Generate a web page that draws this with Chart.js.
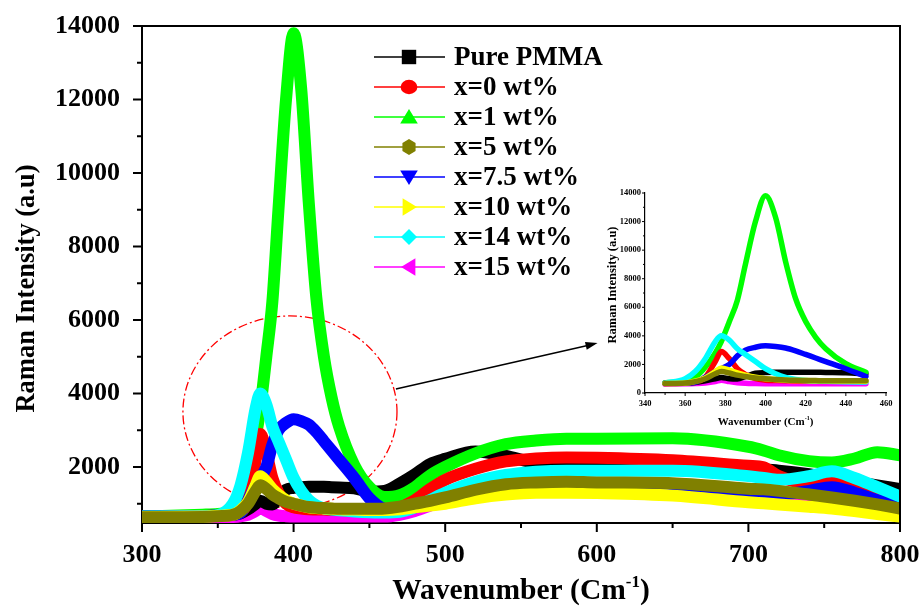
<!DOCTYPE html>
<html>
<head>
<meta charset="utf-8">
<script src="https://cdn.jsdelivr.net/npm/chart.js@4.4.0/dist/chart.umd.min.js"></script>
<style>
  html, body { margin: 0; padding: 0; background: #fff; }
  #wrap { position: relative; width: 923px; height: 606px; }
  #main { position: absolute; left: 0; top: 0; }
  #inset { position: absolute; left: 590px; top: 180px; }
</style>
</head>
<body>
<div id="wrap">
  <canvas id="main" width="923" height="606"></canvas>
  <canvas id="inset" width="310" height="255"></canvas>
</div>
<script>
// Raman spectra, values
const wavenumber = [300, 340, 350, 360, 365, 370, 375, 378, 382, 386,
                    390, 395, 400, 405, 410, 415, 420, 425, 430, 440,
                    450, 460, 470, 480, 490, 500, 520, 540, 560, 580,
                    600, 650, 700, 710, 720, 740, 755, 770, 785, 800];

const purePMMA = [650, 660, 680, 700, 740, 850, 1000, 1080, 1000, 980,
                  1150, 1380, 1430, 1450, 1460, 1460, 1460, 1450, 1440, 1420,
                  1330, 1350, 1550, 1800, 2080, 2220, 2420, 2300, 2120, 2100,
                  2100, 2020, 1950, 1930, 1900, 1800, 1700, 1600, 1500, 1400];
const x0wt = [650, 660, 680, 700, 760, 1100, 2200, 2900, 2400, 1700,
              1300, 1000, 900, 870, 850, 840, 840, 830, 830, 820,
              820, 830, 900, 1100, 1400, 1650, 1950, 2150, 2230, 2260,
              2250, 2180, 2030, 1990, 1750, 1550, 1650, 1500, 1300, 1100];
const x1wt = [650, 700, 720, 800, 1100, 1800, 2800, 3600, 5000, 6500,
              9000, 12000, 13800, 12300, 9200, 6600, 5000, 3900, 3100, 2050,
              1450, 1180, 1230, 1450, 1770, 2000, 2370, 2620, 2720, 2770,
              2770, 2780, 2550, 2450, 2320, 2160, 2120, 2230, 2400, 2320];
const x5wt = [630, 640, 660, 700, 800, 1000, 1350, 1500, 1400, 1250,
              1150, 1050, 1000, 950, 910, 890, 880, 870, 860, 860,
              860, 870, 920, 1000, 1080, 1170, 1380, 1530, 1580, 1600,
              1580, 1560, 1410, 1390, 1350, 1250, 1170, 1080, 980, 870];
const x75wt = [650, 660, 680, 700, 750, 1100, 1500, 1700, 2000, 2600,
               3000, 3200, 3300, 3250, 3150, 2950, 2700, 2450, 2200, 1700,
               1150, 850, 800, 900, 1000, 1100, 1250, 1350, 1400, 1420,
               1420, 1380, 1300, 1280, 1250, 1350, 1450, 1300, 1100, 950];
const x10wt = [640, 650, 670, 700, 820, 1050, 1500, 1750, 1600, 1400,
               1250, 1100, 1000, 950, 900, 880, 870, 860, 850, 840,
               830, 830, 850, 900, 950, 1000, 1150, 1250, 1300, 1300,
               1290, 1220, 1040, 1010, 980, 920, 870, 800, 720, 650];
const x14wt = [650, 660, 690, 1000, 1500, 2400, 3600, 4000, 3700, 3100,
               2700, 2200, 1700, 1350, 1100, 950, 870, 840, 820, 790,
               770, 760, 780, 900, 1100, 1300, 1600, 1780, 1870, 1900,
               1900, 1900, 1750, 1700, 1650, 1750, 1880, 1700, 1450, 1200];
const x15wt = [600, 610, 620, 640, 660, 700, 800, 900, 800, 720,
               680, 660, 650, 650, 650, 650, 650, 650, 650, 650,
               650, 650, 700, 800, 950, 1100, 1400, 1550, 1600, 1600,
               1550, 1450, 1300, 1280, 1250, 1200, 1400, 1200, 900, 700];

const seriesLabels = ['Pure PMMA', 'x=0 wt%', 'x=1 wt%', 'x=5 wt%', 'x=7.5 wt%', 'x=10 wt%', 'x=14 wt%', 'x=15 wt%'];
const seriesValues = [purePMMA, x0wt, x1wt, x5wt, x75wt, x10wt, x14wt, x15wt];
const seriesColors = ['#000000', '#ff0000', '#00ff00', '#808000', '#0000ff', '#ffff00', '#00ffff', '#ff00ff'];
const seriesMarkers = ['square', 'circle', 'triangle', 'hexagon', 'triangleDown', 'triangleRight', 'diamond', 'triangleLeft'];
const drawOrder = [7, 5, 6, 1, 4, 2, 3, 8];   // lower = drawn on top

const xTicksMain = [300, 400, 500, 600, 700, 800];
const yTicksMain = [2000, 4000, 6000, 8000, 10000, 12000, 14000];
const xTicksInset = [340, 360, 380, 400, 420, 440, 460];
const yTicksInset = [0, 2000, 4000, 6000, 8000, 10000, 12000, 14000];

const FONT = '"Liberation Serif", "Times New Roman", serif';

function makeDatasets(lo, hi, width) {
    return seriesLabels.map((label, i) => ({
        label: label,
        order: drawOrder[i],
        data: wavenumber.map((x, j) => ({ x: x, y: seriesValues[i][j] }))
                        .filter(p => p.x >= lo && p.x <= hi),
        borderColor: seriesColors[i],
        backgroundColor: seriesColors[i],
        borderWidth: width,
        pointRadius: 0,
        cubicInterpolationMode: 'monotone',
        borderJoinStyle: 'round',
        borderCapStyle: 'round',
        fill: false
    }));
}

function drawMarker(ctx, kind, x, y, r) {
    ctx.beginPath();
    switch (kind) {
        case 'square':
            ctx.rect(x - r * 0.9, y - r * 0.9, r * 1.8, r * 1.8); break;
        case 'circle':
            ctx.ellipse(x, y, r * 1.05, r * 0.9, 0, 0, Math.PI * 2); break;
        case 'triangle':
            ctx.moveTo(x, y - r); ctx.lineTo(x + r * 1.1, y + r * 0.8); ctx.lineTo(x - r * 1.1, y + r * 0.8); break;
        case 'triangleDown':
            ctx.moveTo(x, y + r); ctx.lineTo(x + r * 1.1, y - r * 0.8); ctx.lineTo(x - r * 1.1, y - r * 0.8); break;
        case 'triangleRight':
            ctx.moveTo(x + r, y); ctx.lineTo(x - r * 0.8, y - r * 1.1); ctx.lineTo(x - r * 0.8, y + r * 1.1); break;
        case 'triangleLeft':
            ctx.moveTo(x - r, y); ctx.lineTo(x + r * 0.8, y - r * 1.1); ctx.lineTo(x + r * 0.8, y + r * 1.1); break;
        case 'diamond':
            ctx.moveTo(x, y - r); ctx.lineTo(x + r, y); ctx.lineTo(x, y + r); ctx.lineTo(x - r, y); break;
        case 'hexagon':
            for (let k = 0; k < 6; k++) {
                const a = Math.PI / 2 + k * Math.PI / 3;
                const px = x + Math.cos(a) * r * 0.95, py = y + Math.sin(a) * r;
                if (k === 0) ctx.moveTo(px, py); else ctx.lineTo(px, py);
            }
            break;
    }
    ctx.closePath();
    ctx.fill();
}

function drawTicks(chart, xMajor, xMinor, yMajor, yMinor, majorLen, minorLen, lw) {
    const ctx = chart.ctx, area = chart.chartArea;
    const xs = chart.scales.x, ys = chart.scales.y;
    ctx.save();
    ctx.strokeStyle = '#000';
    ctx.lineWidth = lw;
    ctx.beginPath();
    xMajor.forEach(v => { const p = xs.getPixelForValue(v); ctx.moveTo(p, area.bottom); ctx.lineTo(p, area.bottom + majorLen); });
    xMinor.forEach(v => { const p = xs.getPixelForValue(v); ctx.moveTo(p, area.bottom); ctx.lineTo(p, area.bottom + minorLen); });
    yMajor.forEach(v => { const p = ys.getPixelForValue(v); ctx.moveTo(area.left, p); ctx.lineTo(area.left - majorLen, p); });
    yMinor.forEach(v => { const p = ys.getPixelForValue(v); ctx.moveTo(area.left, p); ctx.lineTo(area.left - minorLen, p); });
    ctx.stroke();
    ctx.restore();
}

function drawWavenumberTitle(ctx, cx, baseline, size) {
    const a = 'Wavenumber (Cm', sup = '-1', b = ')';
    const mainFont = 'bold ' + size + 'px ' + FONT;
    const supFont = 'bold ' + Math.round(size * 0.58) + 'px ' + FONT;
    ctx.save();
    ctx.fillStyle = '#000';
    ctx.textBaseline = 'alphabetic';
    ctx.textAlign = 'left';
    ctx.font = mainFont;
    const wa = ctx.measureText(a).width, wb = ctx.measureText(b).width;
    ctx.font = supFont;
    const ws = ctx.measureText(sup).width;
    let x = cx - (wa + ws + wb) / 2;
    ctx.font = mainFont; ctx.fillText(a, x, baseline); x += wa;
    ctx.font = supFont; ctx.fillText(sup, x, baseline - size * 0.42); x += ws;
    ctx.font = mainFont; ctx.fillText(b, x, baseline);
    ctx.restore();
}

function drawYTitle(ctx, x, cy, size) {
    ctx.save();
    ctx.translate(x, cy);
    ctx.rotate(-Math.PI / 2);
    ctx.font = 'bold ' + size + 'px ' + FONT;
    ctx.fillStyle = '#000';
    ctx.textAlign = 'center';
    ctx.textBaseline = 'alphabetic';
    ctx.fillText('Raman Intensity (a.u)', 0, 0);
    ctx.restore();
}

// zoom ellipse and arrow, in data units
const zoomCenter = { x: 397.6, y: 3500 };
const zoomRadius = { x: 70.6, y: 2610 };
const arrowFrom = { x: 467.5, y: 4120 };
const arrowTo = { x: 600.5, y: 5370 };

const mainDecor = {
    id: 'mainDecor',
    beforeDatasetsDraw(chart) {
        const ctx = chart.ctx, xs = chart.scales.x, ys = chart.scales.y;
        const cx = xs.getPixelForValue(zoomCenter.x), cy = ys.getPixelForValue(zoomCenter.y);
        const rx = xs.getPixelForValue(zoomCenter.x + zoomRadius.x) - cx;
        const ry = cy - ys.getPixelForValue(zoomCenter.y + zoomRadius.y);
        ctx.save();
        ctx.strokeStyle = '#ff0000';
        ctx.lineWidth = 1.3;
        ctx.setLineDash([9, 3, 2, 3]);
        ctx.beginPath();
        ctx.ellipse(cx, cy, rx, ry, 0, 0, Math.PI * 2);
        ctx.stroke();
        ctx.restore();
    },
    afterDraw(chart) {
        const ctx = chart.ctx, area = chart.chartArea, xs = chart.scales.x, ys = chart.scales.y;
        // frame top/right
        ctx.save();
        ctx.strokeStyle = '#000';
        ctx.lineWidth = 2;
        ctx.beginPath();
        ctx.moveTo(area.left, area.top); ctx.lineTo(area.right, area.top); ctx.lineTo(area.right, area.bottom);
        ctx.stroke();
        ctx.restore();

        drawTicks(chart, xTicksMain, [350, 450, 550, 650, 750],
                  yTicksMain, [1000, 3000, 5000, 7000, 9000, 11000, 13000], 9, 5, 2);

        // arrow
        const x1 = xs.getPixelForValue(arrowFrom.x), y1 = ys.getPixelForValue(arrowFrom.y);
        const x2 = xs.getPixelForValue(arrowTo.x), y2 = ys.getPixelForValue(arrowTo.y);
        const ang = Math.atan2(y2 - y1, x2 - x1);
        ctx.save();
        ctx.strokeStyle = '#000'; ctx.fillStyle = '#000'; ctx.lineWidth = 1.5;
        ctx.beginPath(); ctx.moveTo(x1, y1); ctx.lineTo(x2 - Math.cos(ang) * 8, y2 - Math.sin(ang) * 8); ctx.stroke();
        ctx.beginPath();
        ctx.moveTo(x2, y2);
        ctx.lineTo(x2 - Math.cos(ang) * 12 - Math.sin(ang) * 4, y2 - Math.sin(ang) * 12 + Math.cos(ang) * 4);
        ctx.lineTo(x2 - Math.cos(ang) * 12 + Math.sin(ang) * 4, y2 - Math.sin(ang) * 12 - Math.cos(ang) * 4);
        ctx.closePath(); ctx.fill();
        ctx.restore();

        // legend
        const lx = area.left + 232, ly = area.top + 31;
        ctx.save();
        chart.data.datasets.forEach((ds, i) => {
            const y = ly + i * 30;
            ctx.strokeStyle = ds.borderColor;
            ctx.lineWidth = 1.5;
            ctx.beginPath(); ctx.moveTo(lx, y); ctx.lineTo(lx + 71, y); ctx.stroke();
            ctx.fillStyle = ds.borderColor;
            drawMarker(ctx, seriesMarkers[i], lx + 35, y, 8);
            ctx.fillStyle = '#000';
            ctx.font = 'bold 27px ' + FONT;
            ctx.textAlign = 'left';
            ctx.textBaseline = 'middle';
            ctx.fillText(ds.label, lx + 80, y + 1);
        });
        ctx.restore();

        drawYTitle(ctx, 34, (area.top + area.bottom) / 2 + 14, 26.5);
        drawWavenumberTitle(ctx, (area.left + area.right) / 2, 599, 29.5);
    }
};

const insetDecor = {
    id: 'insetDecor',
    afterDraw(chart) {
        const ctx = chart.ctx, area = chart.chartArea;
        drawTicks(chart, xTicksInset, [350, 370, 390, 410, 430, 450],
                  yTicksInset, [1000, 3000, 5000, 7000, 9000, 11000, 13000], 3, 2, 1);
        drawYTitle(ctx, 26, (area.top + area.bottom) / 2 - 8, 12.5);
        drawWavenumberTitle(ctx, (area.left + area.right) / 2, 245, 11);
    }
};

// drop the label overflow padding so the chart area sits exactly on the layout padding
function noOverflow(s) {
    s.paddingTop = 0; s.paddingBottom = 0; s.paddingLeft = 0; s.paddingRight = 0;
}

const plainLabel = v => String(v);

new Chart(document.getElementById('main'), {
    type: 'line',
    data: { datasets: makeDatasets(300, 800, 12) },
    options: {
        responsive: false,
        animation: false,
        devicePixelRatio: 1,
        layout: { padding: { top: 26, right: 23, left: 0, bottom: 0 } },
        plugins: { legend: { display: false }, tooltip: { enabled: false } },
        scales: {
            x: {
                type: 'linear', min: 300, max: 800,
                afterBuildTicks: s => { s.ticks = xTicksMain.map(v => ({ value: v })); },
                afterFit: s => { s.height = 83; noOverflow(s); },
                grid: { display: false, drawTicks: false },
                border: { display: true, color: '#000', width: 2 },
                ticks: { color: '#000', padding: 17, maxRotation: 0, callback: plainLabel,
                         font: { family: FONT, size: 26, weight: 'bold' } }
            },
            y: {
                type: 'linear', min: 475, max: 14000,
                afterBuildTicks: s => { s.ticks = yTicksMain.map(v => ({ value: v })); },
                afterFit: s => { s.width = 142; noOverflow(s); },
                grid: { display: false, drawTicks: false },
                border: { display: true, color: '#000', width: 2 },
                ticks: { color: '#000', padding: 22, callback: plainLabel,
                         font: { family: FONT, size: 26, weight: 'bold' } }
            }
        }
    },
    plugins: [mainDecor]
});

new Chart(document.getElementById('inset'), {
    type: 'line',
    data: { datasets: makeDatasets(350, 452, 5.5) },
    options: {
        responsive: false,
        animation: false,
        devicePixelRatio: 1,
        layout: { padding: { top: 13, right: 14, left: 0, bottom: 0 } },
        plugins: { legend: { display: false }, tooltip: { enabled: false } },
        scales: {
            x: {
                type: 'linear', min: 340, max: 460,
                afterBuildTicks: s => { s.ticks = xTicksInset.map(v => ({ value: v })); },
                afterFit: s => { s.height = 42; noOverflow(s); },
                grid: { display: false, drawTicks: false },
                border: { display: true, color: '#000', width: 1.2 },
                ticks: { color: '#000', padding: 6, maxRotation: 0, callback: plainLabel,
                         font: { family: FONT, size: 8.5, weight: 'bold' } }
            },
            y: {
                type: 'linear', min: 0, max: 14000,
                afterBuildTicks: s => { s.ticks = yTicksInset.map(v => ({ value: v })); },
                afterFit: s => { s.width = 55; noOverflow(s); },
                grid: { display: false, drawTicks: false },
                border: { display: true, color: '#000', width: 1.2 },
                ticks: { color: '#000', padding: 4, callback: plainLabel,
                         font: { family: FONT, size: 8.5, weight: 'bold' } }
            }
        }
    },
    plugins: [insetDecor]
});
</script>
</body>
</html>
